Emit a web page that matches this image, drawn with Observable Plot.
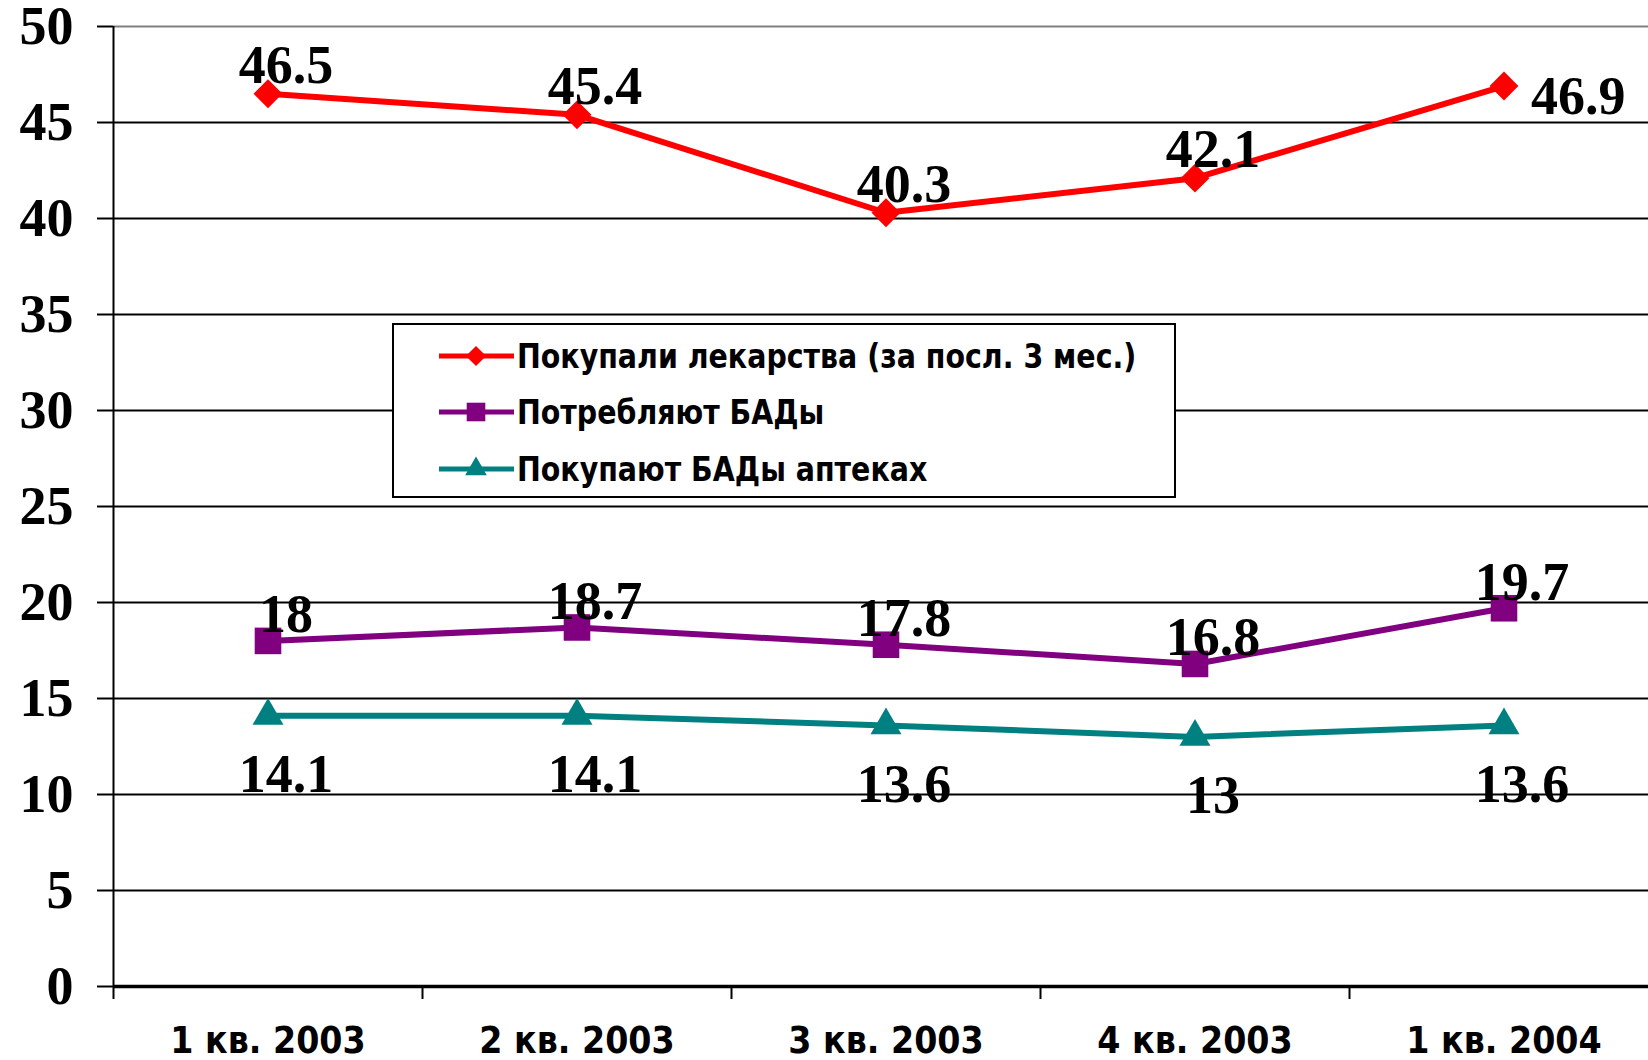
<!DOCTYPE html>
<html><head><meta charset="utf-8">
<script src="https://cdn.jsdelivr.net/npm/d3@7"></script>
<script src="https://cdn.jsdelivr.net/npm/@observablehq/plot@0.6"></script>
<style>
body{margin:0;background:#fff;}
#wrap{position:relative;width:1648px;height:1060px;overflow:hidden;background:#fff;}
#legend{position:absolute;left:392px;top:323px;width:780px;height:171px;border:2px solid #000;background:#fff;}
.row{position:absolute;left:0;height:40px;display:flex;align-items:center;}
.row span{font-family:"DejaVu Sans Condensed","DejaVu Sans",sans-serif;font-stretch:condensed;font-weight:bold;font-size:34px;color:#000;white-space:nowrap;margin-left:3px;display:inline-block;transform:scaleX(0.93);transform-origin:left center;}
</style></head><body><div id="wrap"></div>
<script>
const quarters = ["1 кв. 2003", "2 кв. 2003", "3 кв. 2003", "4 кв. 2003", "1 кв. 2004"];
const seriesNames = ["Покупали лекарства (за посл. 3 мес.)", "Потребляют БАДы", "Покупают БАДы аптеках"];
const drugs = [46.5, 45.4, 40.3, 42.1, 46.9];
const supplementsUse = [18, 18.7, 17.8, 16.8, 19.7];
const supplementsPharmacy = [14.1, 14.1, 13.6, 13, 13.6];
const yTicks = [0, 5, 10, 15, 20, 25, 30, 35, 40, 45, 50];

const colors = ["#ff0000", "#800080", "#008080"];
const symbols = ["diamond2", "square", "triangle"];
const radii = [13, 15, 11.5];
const values = [drugs, supplementsUse, supplementsPharmacy];

const series = seriesNames.map((name, k) => ({
  name, color: colors[k], symbol: symbols[k], r: radii[k],
  rows: values[k].map((v, i) => ({q: quarters[i], xi: i + 0.5, value: v, idx: i}))
}));

const serif = "'Liberation Serif','Times New Roman',serif";
const sans = "'DejaVu Sans Condensed','DejaVu Sans',sans-serif";

const marks = [
  Plot.ruleY(yTicks.filter(t => t > 0 && t < 50), {stroke: "#000", strokeWidth: 2}),
  Plot.ruleY([50], {stroke: "#808080", strokeWidth: 2}),
  Plot.ruleY([0], {stroke: "#000", strokeWidth: 3.5}),
  Plot.ruleX([0], {y1: 0, y2: 50, stroke: "#000", strokeWidth: 2}),
  Plot.axisY(yTicks, {label: null, tickSize: 16, tickPadding: 24, strokeWidth: 2, stroke: "#000",
    fontSize: 54, fontWeight: "bold", fontFamily: serif, fill: "#000"}),
  Plot.axisX([0, 1, 2, 3, 4], {label: null, tickSize: 13, strokeWidth: 2, stroke: "#000", tickFormat: () => ""}),
  Plot.axisX(quarters.map((_, i) => i + 0.5), {label: null, tickSize: 0, tickPadding: 40,
    tickFormat: d => quarters[Math.floor(d)], fontSize: 37, fontWeight: "bold",
    fontFamily: sans, fill: "#000"})
];

series.forEach((s, k) => {
  marks.push(Plot.line(s.rows, {x: "xi", y: "value", stroke: s.color, strokeWidth: 6}));
  marks.push(Plot.dot(s.rows, {x: "xi", y: "value", fill: s.color, symbol: () => s.symbol, r: s.r}));
});

const labelFont = {fontSize: 54, fontWeight: "bold", fontFamily: serif, fill: "#000", lineAnchor: "middle"};
// drugs labels: above, last one to the right
marks.push(Plot.text(series[0].rows.filter(d => d.idx < 4), {x: "xi", y: "value", text: d => String(d.value), dx: 18, dy: -28, ...labelFont}));
marks.push(Plot.text(series[0].rows.filter(d => d.idx === 4), {x: "xi", y: "value", text: d => String(d.value), dx: 27, dy: 11, textAnchor: "start", ...labelFont}));
marks.push(Plot.text(series[1].rows, {x: "xi", y: "value", text: d => String(d.value), dx: 18, dy: -26, ...labelFont}));
marks.push(Plot.text(series[2].rows, {x: "xi", y: "value", text: d => String(d.value), dx: 18, dy: 59, ...labelFont}));

const chart = Plot.plot({
  width: 1648, height: 1060,
  marginTop: 26, marginBottom: 74, marginLeft: 113, marginRight: -10,
  style: {background: "#fff", overflow: "visible"},
  x: {domain: [0, 5], axis: null},
  y: {domain: [0, 50], axis: null},
  marks
});
const wrap = document.getElementById("wrap");
wrap.appendChild(chart);

// legend overlay
const legend = document.createElement("div");
legend.id = "legend";
wrap.appendChild(legend);
const rowTops = [11, 67, 124];
series.forEach((s, k) => {
  const row = document.createElement("div");
  row.className = "row";
  row.style.top = rowTops[k] + "px";
  const svg = d3.create("svg").attr("width", 120).attr("height", 40);
  svg.append("line").attr("x1", 45).attr("x2", 120).attr("y1", 20).attr("y2", 20)
    .attr("stroke", s.color).attr("stroke-width", 5);
  const sym = {diamond2: d3.symbolDiamond2, square: d3.symbolSquare, triangle: d3.symbolTriangle}[s.symbol];
  svg.append("path").attr("d", d3.symbol(sym, Math.PI * (s.r * 0.7) ** 2)())
    .attr("transform", "translate(82,20)").attr("fill", s.color);
  row.appendChild(svg.node());
  const span = document.createElement("span");
  span.textContent = s.name;
  row.appendChild(span);
  legend.appendChild(row);
});
</script></body></html>
